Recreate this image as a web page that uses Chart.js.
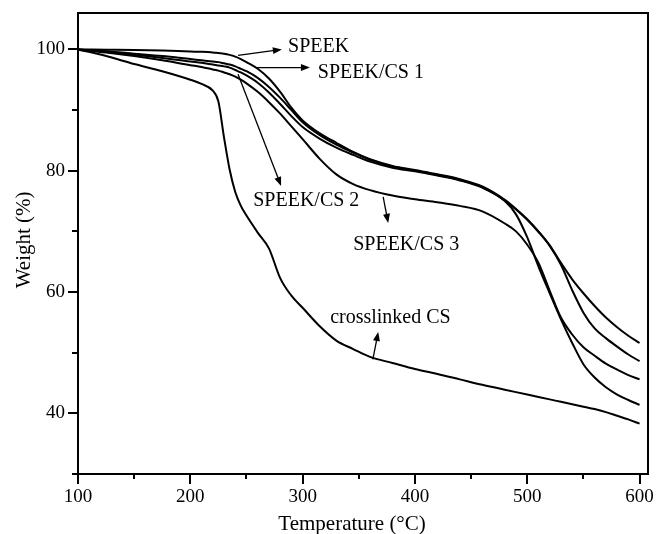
<!DOCTYPE html>
<html>
<head>
<meta charset="utf-8">
<script src="https://cdn.jsdelivr.net/npm/chart.js@4"></script>
<style>
  html, body { margin: 0; background: #fff; }
</style>
</head>
<body>
<canvas id="tgaChart" width="656" height="534"></canvas>
<script>
// Temperature grid (°C) shared by all curves
const TEMP = [100, 125, 150, 175, 200, 210, 220, 225, 230, 235,
              240, 245, 250, 260, 270, 280, 290, 300, 315, 330,
              345, 360, 380, 400, 420, 440, 460, 480, 490, 500,
              510, 520, 530, 540, 550, 560, 570, 580, 590, 600];

// Weight (%)
const SPEEK = [100, 99.95, 99.9, 99.8, 99.65, 99.6, 99.5, 99.4, 99.3, 99.1,
               98.8, 98.4, 97.9, 96.8, 95.2, 93.0, 90.4, 88.3, 86.2, 84.6,
               83.1, 81.9, 80.8, 80.1, 79.4, 78.6, 77.4, 75.2, 73.7, 72.0,
               70.0, 67.7, 64.8, 62.1, 59.8, 57.7, 55.8, 54.2, 52.8, 51.6];
const SPEEK_CS1 = [100, 99.7, 99.3, 98.9, 98.4, 98.2, 98.0, 97.9, 97.7, 97.5,
                   97.2, 96.8, 96.4, 95.3, 93.8, 92.0, 90.0, 88.0, 85.9, 84.3,
                   83.0, 81.8, 80.7, 80.0, 79.3, 78.5, 77.3, 75.1, 73.6, 71.9,
                   69.9, 67.6, 64.5, 60.3, 56.6, 54.0, 52.4, 51.0, 49.7, 48.6];
const SPEEK_CS2 = [100, 99.6, 99.1, 98.6, 98.0, 97.8, 97.5, 97.35, 97.2, 97.0,
                   96.6, 96.2, 95.7, 94.5, 92.9, 91.0, 89.0, 87.2, 85.3, 83.8,
                   82.6, 81.5, 80.5, 79.9, 79.2, 78.4, 77.2, 75.0, 72.8, 69.0,
                   64.2, 59.8, 55.5, 51.6, 48.1, 45.9, 44.3, 43.1, 42.2, 41.4];
const SPEEK_CS3 = [100, 99.5, 98.9, 98.2, 97.4, 97.1, 96.7, 96.5, 96.2, 95.9,
                   95.5, 95.0, 94.4, 93.0, 91.3, 89.4, 87.3, 85.2, 82.0, 79.4,
                   77.8, 76.8, 75.9, 75.3, 74.8, 74.2, 73.3, 71.3, 70.0, 67.8,
                   64.8, 60.2, 55.8, 53.0, 50.9, 49.5, 48.2, 47.2, 46.3, 45.6];
const CROSSLINKED_CS = [100, 98.9, 97.6, 96.4, 95.0, 94.3, 93.2, 91.4, 85.5, 80.2,
                        76.5, 74.2, 72.6, 69.8, 67.2, 62.3, 59.4, 57.4, 54.4, 52.0,
                        50.6, 49.3, 48.3, 47.3, 46.5, 45.6, 44.7, 43.9, 43.5, 43.1,
                        42.7, 42.3, 41.9, 41.5, 41.1, 40.7, 40.2, 39.6, 39.0, 38.3];

// Axis ticks (minor ones get no label)
const X_TICKS = [100, 150, 200, 250, 300, 350, 400, 450, 500, 550, 600];
const X_LABELS = [100, 200, 300, 400, 500, 600];
const Y_TICKS = [30, 40, 50, 60, 70, 80, 90, 100];
const Y_LABELS = [40, 60, 80, 100];

// Curve labels with their arrows, in data units (tail on curve -> head at label)
const NOTES = [
  { text: 'SPEEK',          at: [287, 100.4], tail: [242.5, 99.0], head: [281.5, 100.0] },
  { text: 'SPEEK/CS 1',     at: [313.5, 96.1], tail: [259, 97.0],   head: [306.5, 97.0] },
  { text: 'SPEEK/CS 2',     at: [256, 75.0],  tail: [242.5, 95.9], head: [280.8, 77.5] },
  { text: 'SPEEK/CS 3',     at: [345, 67.8],  tail: [371.7, 75.7], head: [376.2, 71.4] },
  { text: 'crosslinked CS', at: [324.5, 55.8], tail: [362.5, 48.9], head: [367.3, 53.4] }
];

const SERIF = '"Liberation Serif", "Times New Roman", serif';

const series = [
  ['SPEEK', SPEEK], ['SPEEK/CS 1', SPEEK_CS1], ['SPEEK/CS 2', SPEEK_CS2],
  ['SPEEK/CS 3', SPEEK_CS3], ['crosslinked CS', CROSSLINKED_CS]
];

function arrow(ctx, x1, y1, x2, y2) {
  const ang = Math.atan2(y2 - y1, x2 - x1);
  const len = 9, half = 3.5;
  ctx.beginPath();
  ctx.moveTo(x1, y1);
  ctx.lineTo(x2 - Math.cos(ang) * len * 0.6, y2 - Math.sin(ang) * len * 0.6);
  ctx.stroke();
  ctx.beginPath();
  ctx.moveTo(x2, y2);
  ctx.lineTo(x2 - Math.cos(ang) * len + Math.sin(ang) * half, y2 - Math.sin(ang) * len - Math.cos(ang) * half);
  ctx.lineTo(x2 - Math.cos(ang) * len - Math.sin(ang) * half, y2 - Math.sin(ang) * len + Math.cos(ang) * half);
  ctx.closePath();
  ctx.fill();
}

const decorations = {
  id: 'decorations',
  afterDraw(chart) {
    const { ctx, chartArea: a, scales: { x, y } } = chart;
    ctx.save();
    ctx.strokeStyle = '#000';
    ctx.fillStyle = '#000';

    // top and right frame
    ctx.lineWidth = 2;
    ctx.beginPath();
    ctx.moveTo(a.left, a.top);
    ctx.lineTo(a.right, a.top);
    ctx.lineTo(a.right, a.bottom + 1);
    ctx.stroke();

    // outward tick marks
    X_TICKS.forEach(v => {
      const p = Math.round(x.getPixelForValue(v));
      const len = X_LABELS.includes(v) ? 10 : 5;
      ctx.beginPath();
      ctx.moveTo(p, a.bottom);
      ctx.lineTo(p, a.bottom + len);
      ctx.stroke();
    });
    Y_TICKS.forEach(v => {
      const p = Math.round(y.getPixelForValue(v));
      const len = Y_LABELS.includes(v) ? 10 : 6;
      ctx.beginPath();
      ctx.moveTo(a.left, p);
      ctx.lineTo(a.left - len, p);
      ctx.stroke();
    });

    // curve labels and arrows
    ctx.font = '20px ' + SERIF;
    ctx.textAlign = 'left';
    ctx.textBaseline = 'middle';
    ctx.lineWidth = 1.3;
    NOTES.forEach(n => {
      ctx.fillText(n.text, x.getPixelForValue(n.at[0]), y.getPixelForValue(n.at[1]));
      arrow(ctx,
        x.getPixelForValue(n.tail[0]), y.getPixelForValue(n.tail[1]),
        x.getPixelForValue(n.head[0]), y.getPixelForValue(n.head[1]));
    });

    // axis titles
    ctx.font = '21px ' + SERIF;
    ctx.textAlign = 'center';
    ctx.fillText('Temperature (\u00B0C)', x.getPixelForValue(344), a.bottom + 50);
    ctx.translate(a.left - 54, y.getPixelForValue(68.6));
    ctx.rotate(-Math.PI / 2);
    ctx.fillText('Weight (%)', 0, 0);
    ctx.restore();
  }
};

new Chart(document.getElementById('tgaChart'), {
  type: 'line',
  data: {
    datasets: series.map(([name, vals]) => ({
      label: name,
      data: TEMP.map((t, i) => ({ x: t, y: vals[i] })),
      borderColor: '#000',
      borderWidth: 2,
      pointRadius: 0,
      fill: false,
      cubicInterpolationMode: 'monotone'
    }))
  },
  options: {
    responsive: false,
    animation: false,
    devicePixelRatio: 1,
    layout: { padding: { top: 13, right: 8, left: 0, bottom: 0 } },
    plugins: { legend: { display: false }, tooltip: { enabled: false } },
    scales: {
      x: {
        type: 'linear',
        min: 100,
        max: 607.5,
        afterFit: s => {
          s.height = 60;
          s.paddingLeft = 0;
          s.paddingRight = 0;
        },
        afterBuildTicks: s => { s.ticks = X_TICKS.map(v => ({ value: v })); },
        grid: { drawOnChartArea: false, drawTicks: false },
        border: { color: '#000', width: 2 },
        ticks: {
          autoSkip: false,
          maxRotation: 0,
          padding: 12,
          color: '#000',
          font: { family: SERIF, size: 19 },
          callback: v => X_LABELS.includes(v) ? String(v) : ''
        }
      },
      y: {
        min: 30,
        max: 106,
        afterFit: s => {
          s.width = 78;
          s.paddingTop = 0;
          s.paddingBottom = 0;
        },
        afterBuildTicks: s => { s.ticks = Y_TICKS.map(v => ({ value: v })); },
        grid: { drawOnChartArea: false, drawTicks: false },
        border: { color: '#000', width: 2 },
        ticks: {
          autoSkip: false,
          padding: 13,
          color: '#000',
          font: { family: SERIF, size: 19 },
          callback: v => Y_LABELS.includes(v) ? String(v) : ''
        }
      }
    }
  },
  plugins: [decorations]
});
</script>
</body>
</html>
